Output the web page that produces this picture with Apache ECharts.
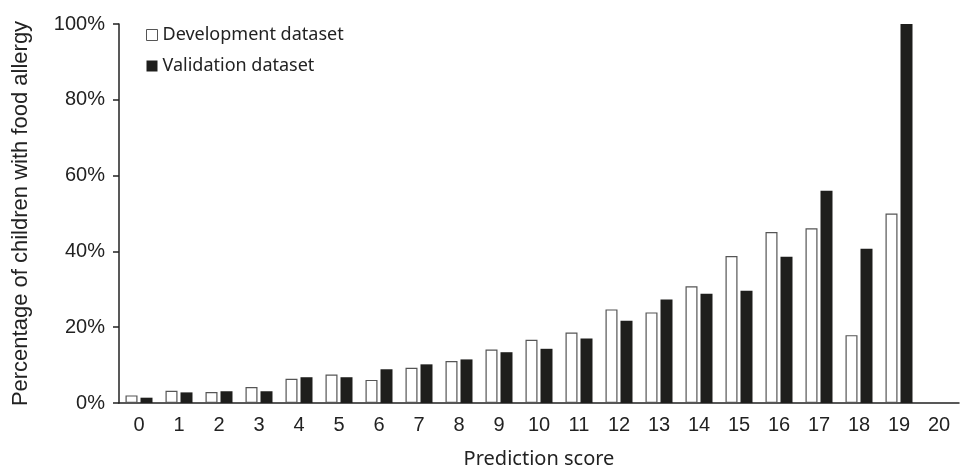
<!DOCTYPE html>
<html>
<head>
<meta charset="utf-8">
<script src="https://cdn.jsdelivr.net/npm/echarts@6/dist/echarts.min.js"></script>
<style>
    html, body { margin: 0; padding: 0; background: #fff; }
    #chart { width: 966px; height: 467px; }
</style>
</head>
<body>
<div id="chart"></div>
<script>
const scores = ['0', '1', '2', '3', '4', '5', '6', '7', '8', '9', '10',
    '11', '12', '13', '14', '15', '16', '17', '18', '19', '20'];
const development = [2.0, 3.2, 2.9, 4.2, 6.4, 7.5, 6.1, 9.3, 11.1, 14.1, 16.7,
    18.6, 24.7, 23.9, 30.8, 38.8, 45.1, 46.1, 17.9, 50.0, null];
const validation = [1.4, 2.8, 3.1, 3.1, 6.8, 6.8, 8.9, 10.2, 11.5, 13.4, 14.3,
    17.0, 21.7, 27.3, 28.8, 29.6, 38.6, 56.0, 40.7, 100, null];

const INK = '#222';
const ARIAL = 'Arial, "Liberation Sans", sans-serif';
const chart = echarts.init(document.getElementById('chart'));

chart.setOption({
    animation: false,
    grid: { left: 119, right: 7, top: 24, bottom: 64, outerBoundsMode: 'none' },
    legend: {
        orient: 'vertical',
        left: 141,
        top: 21,
        itemWidth: 11,
        itemHeight: 11,
        itemGap: 13,
        textStyle: { fontFamily: 'Noto Sans', fontSize: 18, lineHeight: 18, color: INK, padding: [0, 0, 0, 0] },
        data: [
            { name: 'Development dataset', icon: 'rect', itemStyle: { color: '#fff', borderColor: '#555', borderWidth: 1 } },
            { name: 'Validation dataset', icon: 'rect', itemStyle: { color: '#1e1e1c' } }
        ]
    },
    xAxis: {
        type: 'category',
        data: scores,
        name: 'Prediction score',
        nameLocation: 'middle',
        nameGap: 46,
        nameTextStyle: { fontFamily: 'Noto Sans', fontSize: 20, color: INK },
        axisLine: { lineStyle: { color: INK, width: 1.5 } },
        axisTick: { length: 6, lineStyle: { color: INK, width: 1.5 } },
        axisLabel: { fontFamily: ARIAL, fontSize: 20, color: INK, margin: 12 }
    },
    yAxis: {
        type: 'value',
        min: 0,
        max: 100,
        interval: 20,
        name: 'Percentage of children with food allergy',
        nameLocation: 'middle',
        nameGap: 87,
        nameTextStyle: { fontFamily: ARIAL, fontSize: 22, color: INK },
        axisLine: { show: true, lineStyle: { color: INK, width: 1.5 } },
        axisTick: { show: true, length: 6, lineStyle: { color: INK, width: 1.5 } },
        axisLabel: { fontFamily: ARIAL, fontSize: 20, color: INK, margin: 14, formatter: '{value}%' },
        splitLine: { show: false }
    },
    series: [
        {
            name: 'Development dataset',
            type: 'bar',
            data: development,
            barWidth: 12,
            barGap: '25%',
            itemStyle: { color: '#fff', borderColor: '#555', borderWidth: 1.2 }
        },
        {
            name: 'Validation dataset',
            type: 'bar',
            data: validation,
            barWidth: 12,
            itemStyle: { color: '#1e1e1c' }
        }
    ]
});

window.addEventListener('resize', () => chart.resize());
</script>
</body>
</html>
